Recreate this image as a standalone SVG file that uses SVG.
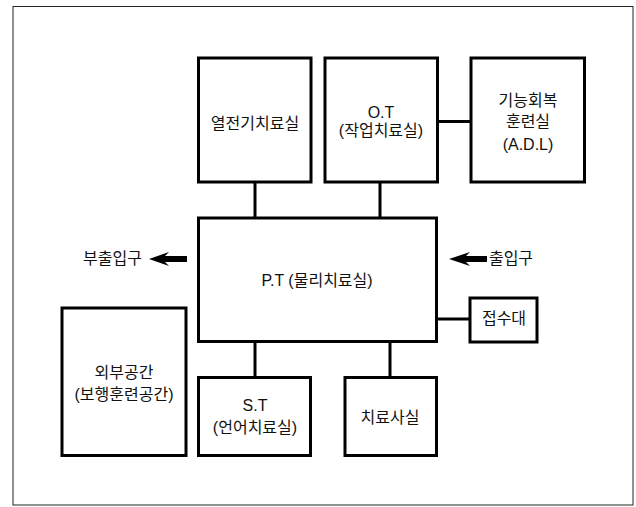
<svg xmlns="http://www.w3.org/2000/svg" width="636" height="507" viewBox="0 0 636 507">
<style>
.box{fill:#fff;stroke:#000;stroke-width:3}
.con{stroke:#000;stroke-width:3;fill:none}
.arr{fill:#000}
text{font-family:"Liberation Sans","Noto Sans CJK KR",sans-serif;font-size:16px;fill:#111;text-anchor:middle}
</style>
<rect x="0" y="0" width="636" height="507" fill="#fff"/>
<g id="frame">
<rect x="13" y="6.5" width="620" height="498.5" fill="none" stroke="#222" stroke-width="1"/>
</g>
<g id="connectors">
<line class="con" x1="255" y1="182" x2="255" y2="218"/>
<line class="con" x1="380" y1="182" x2="380" y2="218"/>
<line class="con" x1="437.5" y1="121.5" x2="471" y2="121.5"/>
<line class="con" x1="436.5" y1="319" x2="470" y2="319"/>
<line class="con" x1="255" y1="341.5" x2="255" y2="377.5"/>
<line class="con" x1="390" y1="341.5" x2="390" y2="377.5"/>
<path class="arr" d="M149,259 L169,252 L165,256 L187,256 L187,262 L165,262 L169,266 Z"/>
<path class="arr" d="M449,259 L470,252 L466,256 L487,256 L487,262 L466,262 L470,266 Z"/>
</g>
<g id="n-yeoljeongi">
<rect class="box" x="198.5" y="58" width="112.5" height="124"/>
<text x="255" y="129">열전기치료실</text>
</g>
<g id="n-ot">
<rect class="box" x="325" y="58" width="112.5" height="124"/>
<text x="381" y="118">O.T</text>
<text x="381" y="136">(작업치료실)</text>
</g>
<g id="n-adl">
<rect class="box" x="471" y="58" width="113.5" height="124"/>
<text x="528" y="106">기능회복</text>
<text x="528" y="127">훈련실</text>
<text x="528" y="150">(A.D.L)</text>
</g>
<g id="n-pt">
<rect class="box" x="198.5" y="218" width="238" height="123.5"/>
<text x="317" y="286">P.T (물리치료실)</text>
</g>
<g id="n-bu-entrance">
<text x="112.5" y="264">부출입구</text>
</g>
<g id="n-entrance">
<text x="511" y="264">출입구</text>
</g>
<g id="n-reception">
<rect class="box" x="470" y="298" width="67" height="44"/>
<text x="504" y="324">접수대</text>
</g>
<g id="n-outdoor">
<rect class="box" x="62" y="308" width="124" height="147.5"/>
<text x="124" y="378">외부공간</text>
<text x="124" y="399.5">(보행훈련공간)</text>
</g>
<g id="n-st">
<rect class="box" x="198.5" y="377.5" width="112" height="78"/>
<text x="255" y="411">S.T</text>
<text x="255" y="433">(언어치료실)</text>
</g>
<g id="n-therapist">
<rect class="box" x="345" y="377.5" width="91.5" height="78"/>
<text x="390" y="423">치료사실</text>
</g>
</svg>
